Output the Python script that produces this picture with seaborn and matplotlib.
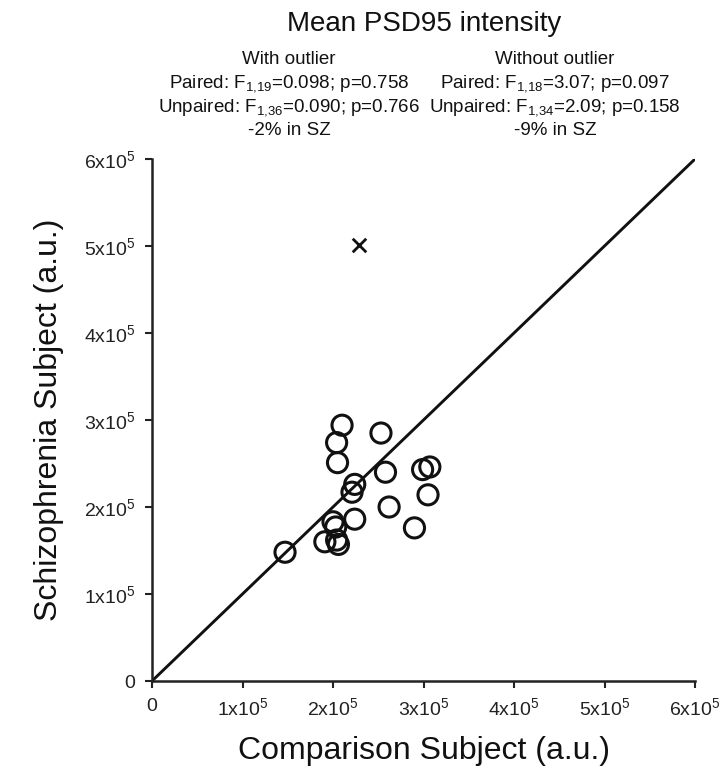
import pandas as pd
import seaborn as sns
import matplotlib.pyplot as plt

# Paired subjects (comparison vs schizophrenia), values in a.u.
comparison = [2.10e5, 2.04e5, 2.05e5, 2.53e5, 2.58e5, 2.24e5, 2.21e5, 2.99e5, 3.07e5,
              3.05e5, 2.62e5, 2.24e5, 2.00e5, 2.90e5, 1.91e5, 2.04e5, 2.06e5, 1.47e5, 2.03e5]
schizophrenia = [2.94e5, 2.74e5, 2.51e5, 2.85e5, 2.40e5, 2.26e5, 2.17e5, 2.43e5, 2.46e5,
                 2.14e5, 2.00e5, 1.86e5, 1.83e5, 1.76e5, 1.60e5, 1.62e5, 1.57e5, 1.48e5, 1.77e5]
outlier_x = [2.29e5]
outlier_y = [5.01e5]
unity = [0, 6e5]
ticks = [0, 1e5, 2e5, 3e5, 4e5, 5e5, 6e5]
tick_labels = ['0', '1x10$^5$', '2x10$^5$', '3x10$^5$', '4x10$^5$', '5x10$^5$', '6x10$^5$']

left_block = ['With outlier',
              'Paired: F$_{1{,}19}$=0.098; p=0.758',
              'Unpaired: F$_{1{,}36}$=0.090; p=0.766',
              '-2% in SZ']
right_block = ['Without outlier',
               'Paired: F$_{1{,}18}$=3.07; p=0.097',
               'Unpaired: F$_{1{,}34}$=2.09; p=0.158',
               '-9% in SZ']

df = pd.DataFrame({'comparison': comparison, 'schizophrenia': schizophrenia})

sns.set_theme(style="ticks")
plt.rcParams['font.family'] = ['Liberation Sans', 'DejaVu Sans']
plt.rcParams['mathtext.fontset'] = 'custom'
plt.rcParams['mathtext.rm'] = 'Liberation Sans'
plt.rcParams['mathtext.it'] = 'Liberation Sans'
plt.rcParams['mathtext.default'] = 'regular'

W, H = 728, 771
fig = plt.figure(figsize=(W / 100, H / 100), dpi=100)
ax = fig.add_axes([152 / W, 1 - 681 / H, 543 / W, 522 / H])

sns.lineplot(x=unity, y=unity, ax=ax, color='#111111', linewidth=2.1, zorder=1)
sns.scatterplot(data=df, x='comparison', y='schizophrenia', ax=ax, marker='o', s=210,
                facecolors='none', edgecolor='#111111', linewidth=2.2, zorder=3)
sns.scatterplot(x=outlier_x, y=outlier_y, ax=ax, marker='x', s=95,
                color='#111111', linewidth=2.0, zorder=3)

ax.set_xlim(0, 6e5)
ax.set_ylim(0, 6e5)
ax.set_xticks(ticks)
ax.set_yticks(ticks)
ax.set_xticklabels(tick_labels)
ax.set_yticklabels(tick_labels)
ax.tick_params(direction='out', length=5, width=1.5, labelsize=14, colors='#222222', pad=7)
sns.despine(ax=ax)
for s in ['left', 'bottom']:
    ax.spines[s].set_linewidth(1.8)
    ax.spines[s].set_color('#222222')

ax.set_xlabel('Comparison Subject (a.u.)', fontsize=23, color='#111111', labelpad=12)
ax.set_ylabel('Schizophrenia Subject (a.u.)', fontsize=23, color='#111111', labelpad=14)

# header text
fig.text(424 / W, 1 - 31 / H, 'Mean PSD95 intensity', ha='center', va='baseline',
         fontsize=20, color='#111111')
baselines = [63.5, 87.5, 111, 135]
for cx, block in [(289, left_block), (555, right_block)]:
    for yb, line in zip(baselines, block):
        fig.text(cx / W, 1 - yb / H, line, ha='center', va='baseline',
                 fontsize=13.5, color='#111111')

plt.savefig('out.png', dpi=100)
